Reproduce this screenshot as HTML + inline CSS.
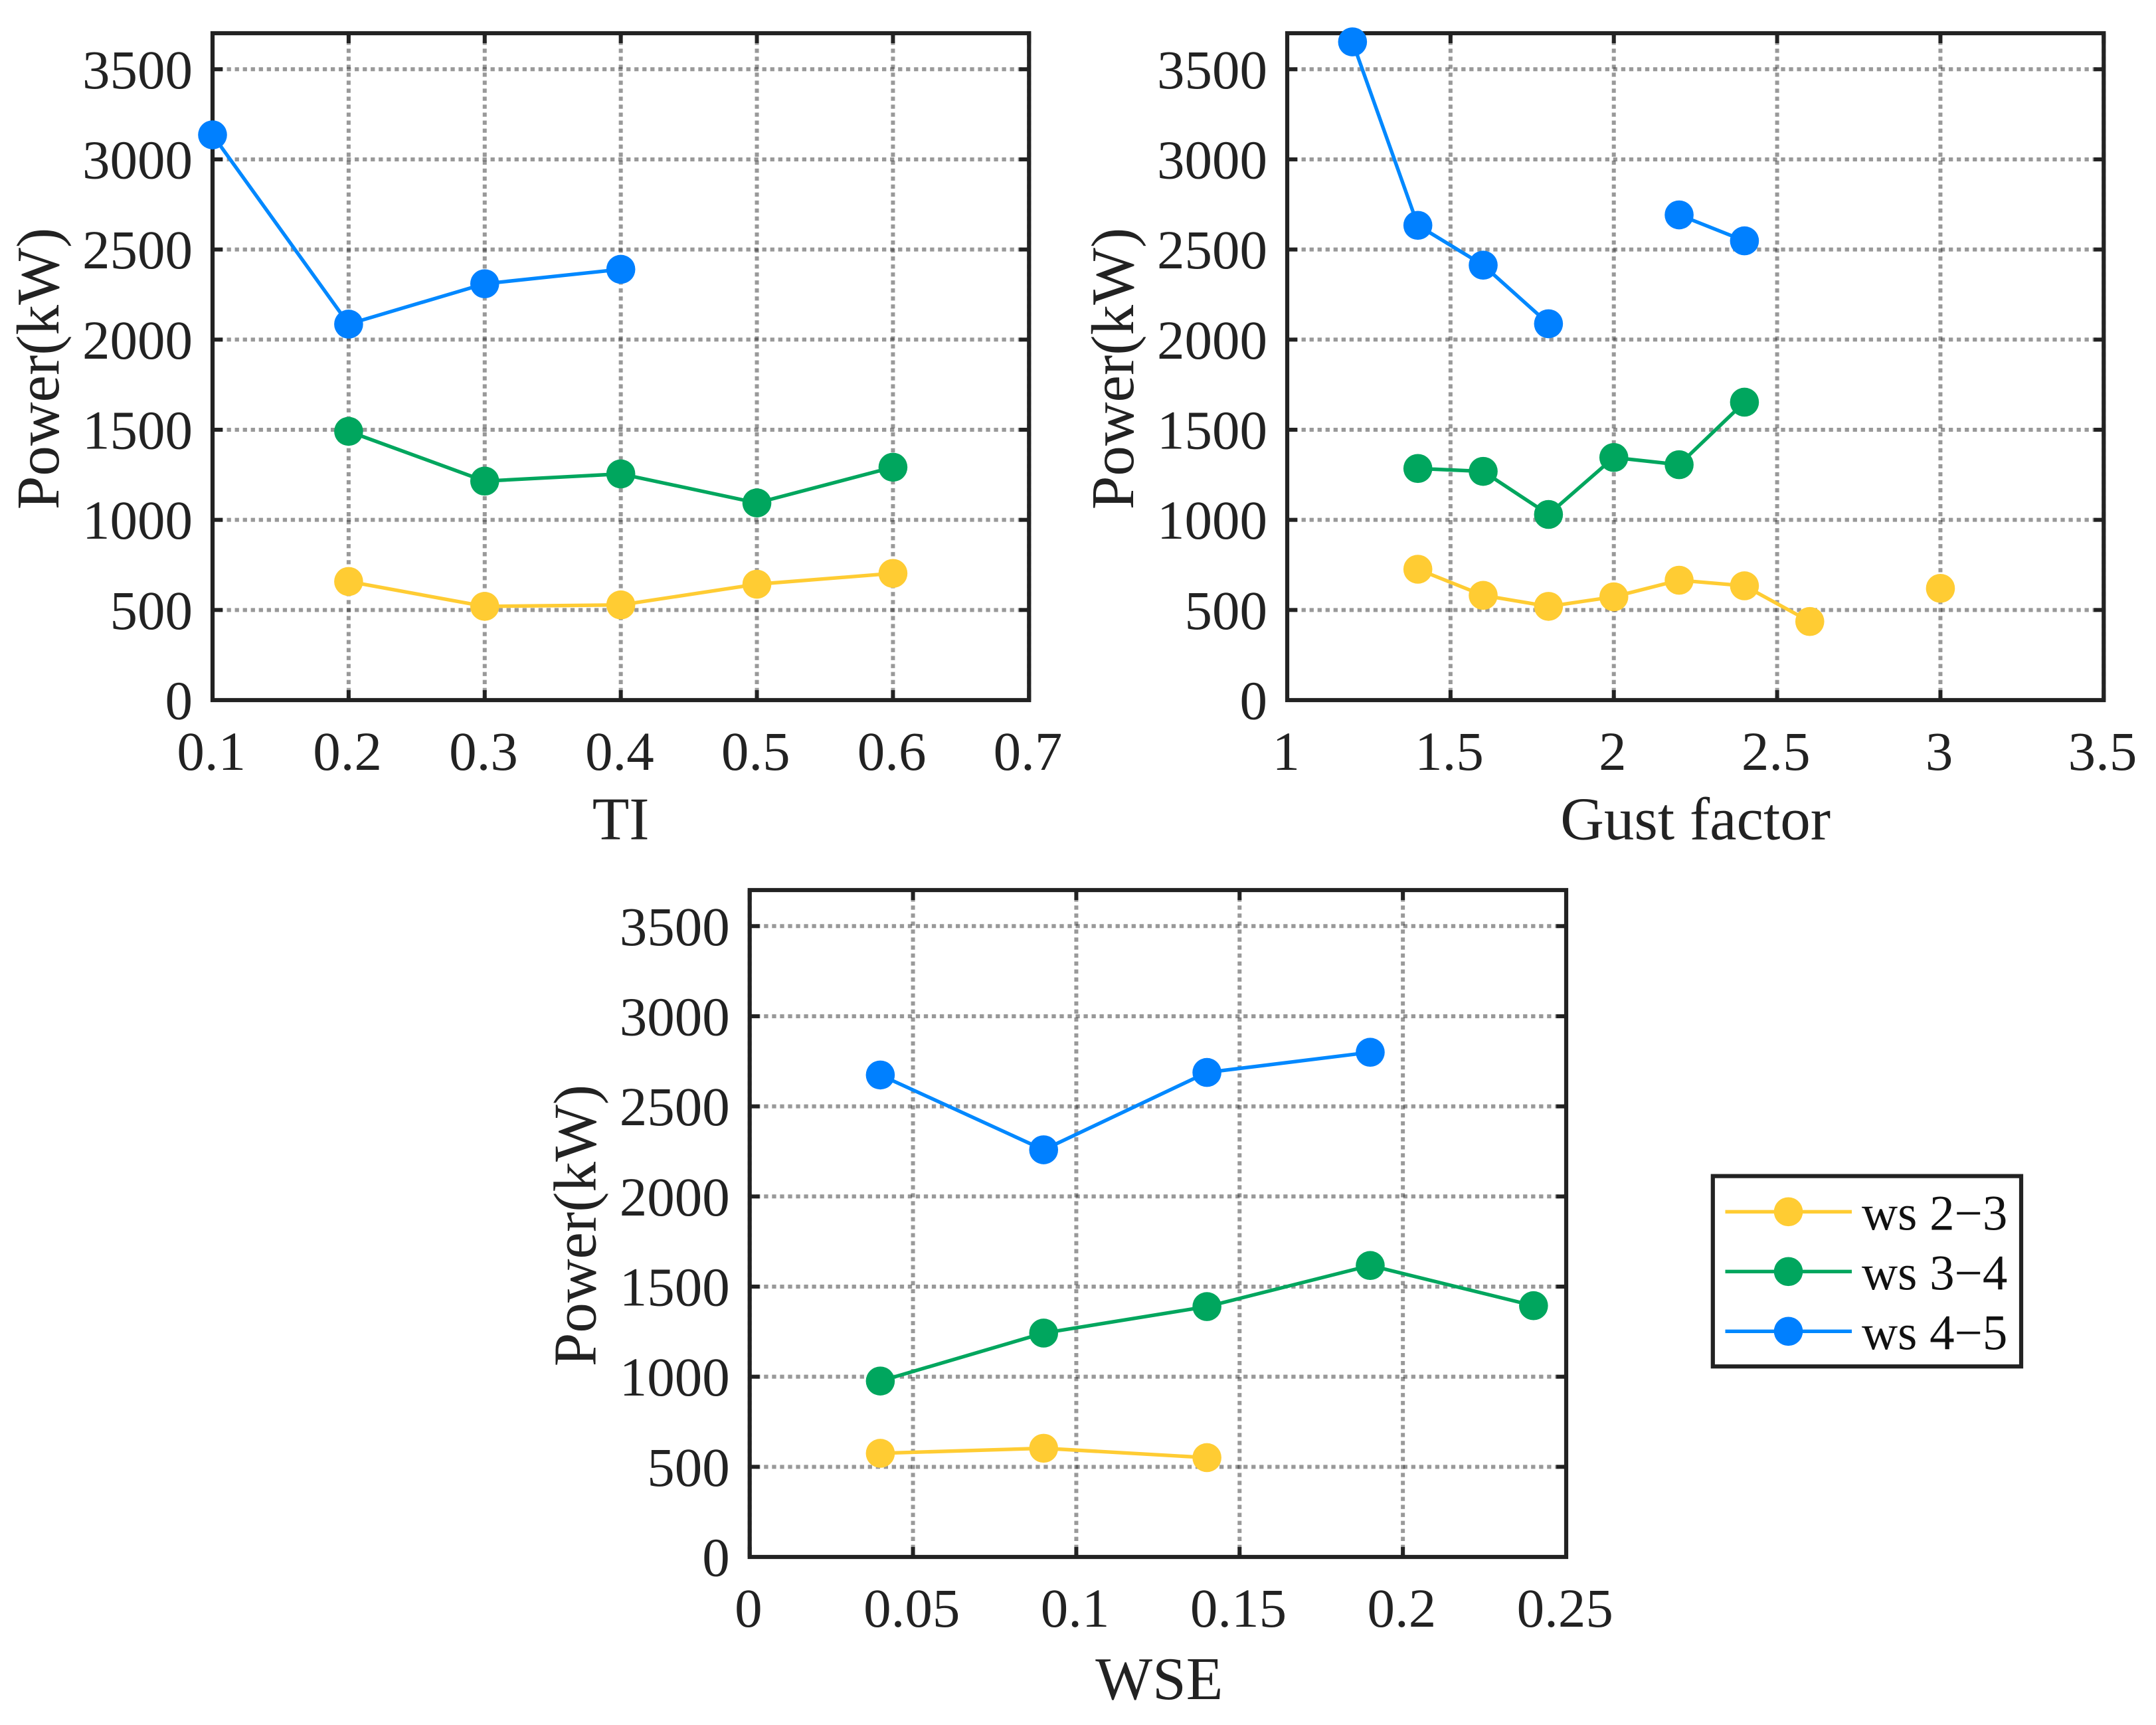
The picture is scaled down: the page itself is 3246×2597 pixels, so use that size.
<!DOCTYPE html>
<html lang="en">
<head>
<meta charset="utf-8">
<title>Power versus TI, gust factor and WSE</title>
<style>
html,body{margin:0;padding:0;background:#fff;}
svg{display:block;}
text{font-family:"Liberation Serif","Times New Roman",serif;fill:#222;}
</style>
</head>
<body>
<svg id="figure" xmlns="http://www.w3.org/2000/svg" width="3246" height="2597" viewBox="0 0 3246 2597">
  <rect x="0" y="0" width="3246" height="2597" fill="#fff"/>
  <g id="panel-ti"></g>
  <g id="panel-gust"></g>
  <g id="panel-wse"></g>
  <g id="legend">
    <rect x="2578.8" y="1770.6" width="464.2" height="286.6" fill="#fff" stroke="#222" stroke-width="6.2"/>
    <g>
      <line x1="2597.5" x2="2788" y1="1824.3" y2="1824.3" stroke="#FFCC33" stroke-width="5.4"/>
      <circle cx="2692.5" cy="1824.3" r="21.8" fill="#FFCC33"/>
      <text x="2803" y="1851.5" font-size="75" style="fill:#111">ws 2−3</text>
    </g>
    <g>
      <line x1="2597.5" x2="2788" y1="1914.3" y2="1914.3" stroke="#00A65E" stroke-width="5.4"/>
      <circle cx="2692.5" cy="1914.3" r="21.8" fill="#00A65E"/>
      <text x="2803" y="1941.5" font-size="75" style="fill:#111">ws 3−4</text>
    </g>
    <g>
      <line x1="2597.5" x2="2788" y1="2004.3" y2="2004.3" stroke="#0088FF" stroke-width="5.4"/>
      <circle cx="2692.5" cy="2004.3" r="21.8" fill="#0080FF"/>
      <text x="2803" y="2031.5" font-size="75" style="fill:#111">ws 4−5</text>
    </g>
  </g>
</svg>
<script>
// Shared y axis
const powerTicks = [0, 500, 1000, 1500, 2000, 2500, 3000, 3500];
const powerTickLabels = ['0', '500', '1000', '1500', '2000', '2500', '3000', '3500'];
const powerMax = 3700;

// TI panel
const tiCategories = [0.1, 0.2, 0.3, 0.4, 0.5, 0.6];
const tiWs23 = [null, 658, 520, 528, 643, 703];
const tiWs34 = [null, 1491, 1215, 1255, 1094, 1292];
const tiWs45 = [3136, 2086, 2310, 2390, null, null];
const tiTicks = [0.1, 0.2, 0.3, 0.4, 0.5, 0.6, 0.7];
const tiTickLabels = ['0.1', '0.2', '0.3', '0.4', '0.5', '0.6', '0.7'];

// Gust factor panel
const gustCategories = [1.2, 1.4, 1.6, 1.8, 2.0, 2.2, 2.4, 2.6, 2.8, 3.0];
const gustWs23 = [null, 726, 581, 520, 573, 665, 634, 436, null, 620];
const gustWs34 = [null, 1285, 1269, 1030, 1346, 1306, 1653, null, null, null];
const gustWs45 = [3652, 2634, 2413, 2088, null, 2692, 2548, null, null, null];
const gustTicks = [1, 1.5, 2, 2.5, 3, 3.5];
const gustTickLabels = ['1', '1.5', '2', '2.5', '3', '3.5'];

// WSE panel
const wseCategories = [0.04, 0.09, 0.14, 0.19, 0.24];
const wseWs23 = [575, 603, 551, null, null];
const wseWs34 = [976, 1242, 1389, 1617, 1394];
const wseWs45 = [2674, 2259, 2688, 2800, null];
const wseTicks = [0, 0.05, 0.1, 0.15, 0.2, 0.25];
const wseTickLabels = ['0', '0.05', '0.1', '0.15', '0.2', '0.25'];

const SVG_NS = 'http://www.w3.org/2000/svg';
const COLOR_23 = '#FFCC33';
const COLOR_34 = '#00A65E';
const COLOR_45_LINE = '#0088FF';
const COLOR_45_MARK = '#0080FF';

function make(parent, tag, attrs) {
  const el = document.createElementNS(SVG_NS, tag);
  for (const k in attrs) el.setAttribute(k, attrs[k]);
  parent.appendChild(el);
  return el;
}

function drawSeries(g, slug, categories, values, lineColor, markColor, sx, sy) {
  const group = make(g, 'g', {});
  
  
  let run = [];
  const flush = () => {
    if (run.length > 1) {
      const line = make(group, 'polyline', {
        points: run.map(p => p[0] + ',' + p[1]).join(' '),
        fill: 'none', stroke: lineColor, 'stroke-width': 5.4, 'stroke-linejoin': 'round'
      });
      
      
    }
    run = [];
  };
  categories.forEach((c, i) => {
    if (values[i] === null) { flush(); return; }
    run.push([sx(c), sy(values[i])]);
  });
  flush();
  categories.forEach((c, i) => {
    if (values[i] === null) return;
    const dot = make(group, 'circle', { cx: sx(c), cy: sy(values[i]), r: 21.8, fill: markColor });
    
    
  });
}

function drawPanel(cfg) {
  const g = document.getElementById(cfg.id);
  const L = cfg.left, R = cfg.left + 1229.3, T = cfg.bottom - 1004, B = cfg.bottom;
  const sx = v => L + (v - cfg.xMin) / (cfg.xMax - cfg.xMin) * (R - L);
  const sy = v => B - v / powerMax * (B - T);

  cfg.yTicks.forEach(v => {
    const grid = make(g, 'line', {
      x1: L - 2.5, x2: R, y1: sy(v), y2: sy(v),
      stroke: '#262626', 'stroke-opacity': 0.47, 'stroke-width': 6, 'stroke-dasharray': '6.3 5.73'
    });
    
    
  });
  cfg.xTicks.forEach(v => {
    const grid = make(g, 'line', {
      x1: sx(v), x2: sx(v), y1: B, y2: T,
      stroke: '#262626', 'stroke-opacity': 0.47, 'stroke-width': 6, 'stroke-dasharray': '6.3 5.73'
    });
    
    
  });

  cfg.yTicks.forEach((v, i) => {
    const leftTick = make(g, 'line', { x1: L, x2: L + 15, y1: sy(v), y2: sy(v), stroke: '#222', 'stroke-width': 6 });
    
    
    const rightTick = make(g, 'line', { x1: R, x2: R - 15, y1: sy(v), y2: sy(v), stroke: '#222', 'stroke-width': 6 });
    
    
    const label = make(g, 'text', { x: L - 30, y: sy(v) + 28.5, 'font-size': 83, 'text-anchor': 'end' });
    label.textContent = cfg.yLabels[i];
    
    
  });
  cfg.xTicks.forEach((v, i) => {
    const bottomTick = make(g, 'line', { x1: sx(v), x2: sx(v), y1: B, y2: B - 15, stroke: '#222', 'stroke-width': 6 });
    
    
    const topTick = make(g, 'line', { x1: sx(v), x2: sx(v), y1: T, y2: T + 15, stroke: '#222', 'stroke-width': 6 });
    
    
    const label = make(g, 'text', { x: sx(v) - 1.8, y: B + 105, 'font-size': 83, 'text-anchor': 'middle' });
    label.textContent = cfg.xLabels[i];
    
    
  });

  const frame = make(g, 'rect', { x: L, y: T, width: R - L, height: B - T, fill: 'none', stroke: '#222', 'stroke-width': 6.2 });
  
  

  drawSeries(g, 'ws-2-3', cfg.categories, cfg.ws23, COLOR_23, COLOR_23, sx, sy);
  drawSeries(g, 'ws-3-4', cfg.categories, cfg.ws34, COLOR_34, COLOR_34, sx, sy);
  drawSeries(g, 'ws-4-5', cfg.categories, cfg.ws45, COLOR_45_LINE, COLOR_45_MARK, sx, sy);

  const xTitle = make(g, 'text', { x: (L + R) / 2 + cfg.xTitleDx, y: cfg.xTitleY, 'font-size': 91, 'text-anchor': 'middle' });
  xTitle.textContent = cfg.xTitle;
  
  

  const yx = L - 232, yy = (T + B) / 2 + 3;
  const yTitle = make(g, 'text', { x: yx, y: yy, 'font-size': 91, 'text-anchor': 'middle', transform: 'rotate(-90 ' + yx + ' ' + yy + ')' });
  yTitle.textContent = 'Power(kW)';
  
  
}

drawPanel({ id: 'panel-ti', left: 320, bottom: 1054, xMin: 0.1, xMax: 0.7,
  xTicks: tiTicks, xLabels: tiTickLabels, yTicks: powerTicks, yLabels: powerTickLabels,
  categories: tiCategories, ws23: tiWs23, ws34: tiWs34, ws45: tiWs45,
  xTitle: 'TI', xTitleY: 1263.3, xTitleDx: 0 });
drawPanel({ id: 'panel-gust', left: 1938, bottom: 1054, xMin: 1, xMax: 3.5,
  xTicks: gustTicks, xLabels: gustTickLabels, yTicks: powerTicks, yLabels: powerTickLabels,
  categories: gustCategories, ws23: gustWs23, ws34: gustWs34, ws45: gustWs45,
  xTitle: 'Gust factor', xTitleY: 1263.3, xTitleDx: 0 });
drawPanel({ id: 'panel-wse', left: 1128.7, bottom: 2344, xMin: 0, xMax: 0.25,
  xTicks: wseTicks, xLabels: wseTickLabels, yTicks: powerTicks, yLabels: powerTickLabels,
  categories: wseCategories, ws23: wseWs23, ws34: wseWs34, ws45: wseWs45,
  xTitle: 'WSE', xTitleY: 2558, xTitleDx: 2 });
</script>
</body>
</html>
